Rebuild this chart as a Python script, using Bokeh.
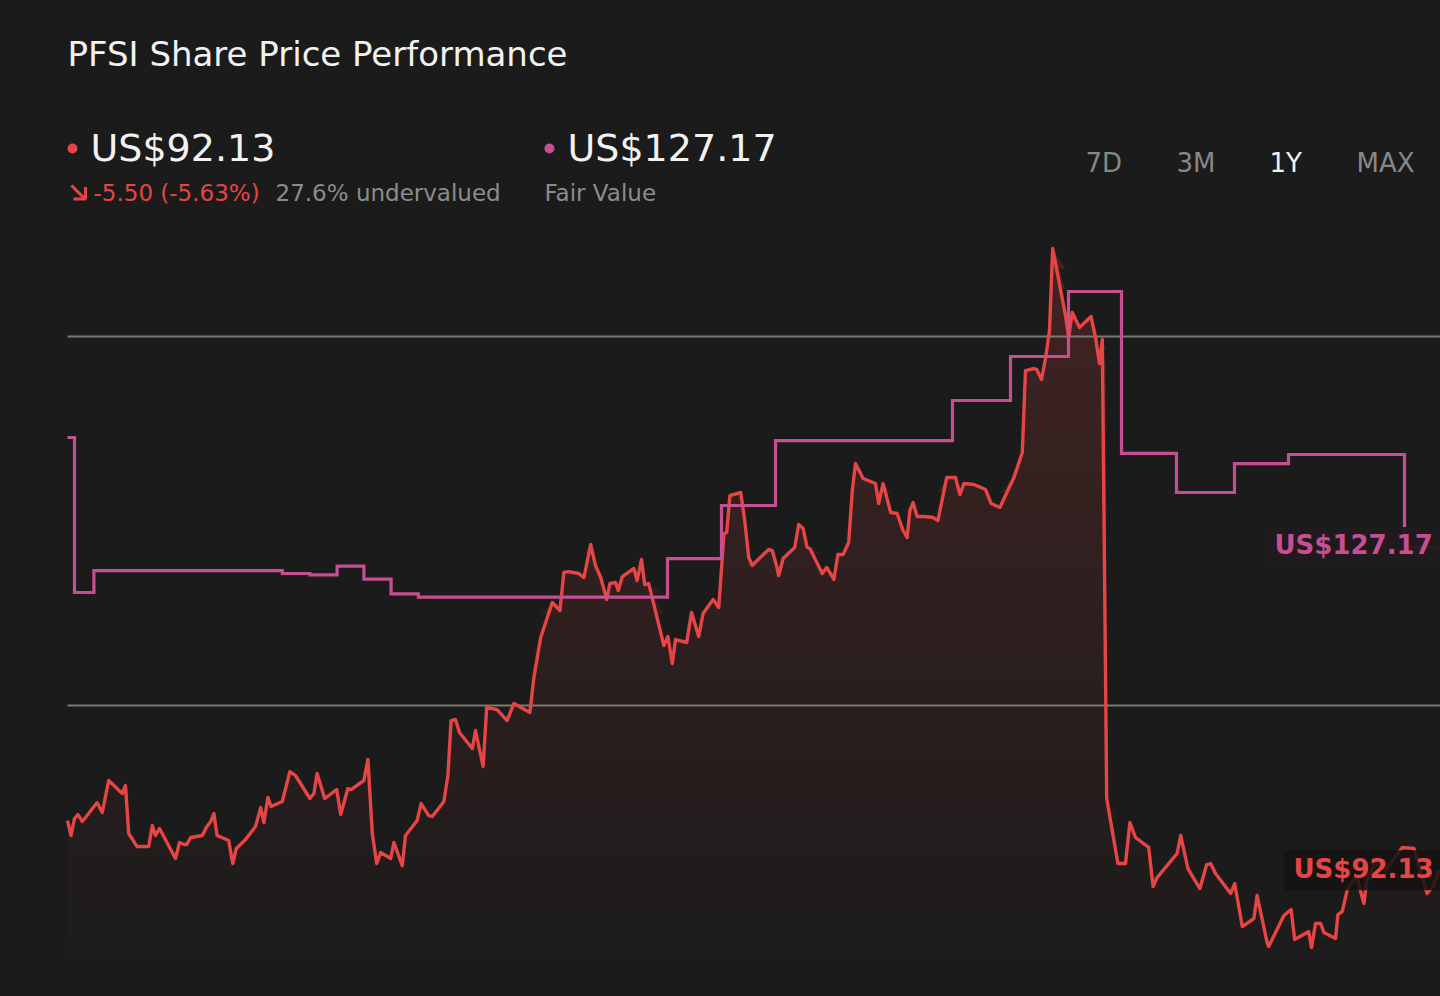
import numpy as np
from bokeh.plotting import figure
from bokeh.models import Range1d
from bokeh.core.properties import value
from bokeh.embed import file_html
from bokeh.resources import INLINE

# ---------------- data ----------------
ticker = "PFSI"
price_days = [0, 0.9, 1.75, 2.6, 3.1, 3.7, 4.9, 7.4, 8.7, 10.3,
              13.7, 14.5, 15.3, 17.4, 20.3, 21.2, 22, 23, 27, 28,
              29.1, 29.8, 30.8, 33.7, 34.7, 35.8, 36.6, 37.4, 40.3, 41.3,
              42.2, 44.5, 47, 48.3, 49.1, 50.1, 50.9, 53.7, 55.6, 57,
              60.6, 61.6, 62.4, 64.3, 67.3, 68.3, 70.1, 70.9, 74.1, 75.1,
              76.2, 77.3, 78.3, 80.8, 81.6, 83.7, 84.5, 87.4, 88.4, 90.3,
              91.2, 94.1, 95.1, 95.9, 97, 98, 101.2, 102, 103.9, 104.8,
              107.4, 109.9, 111.6, 115.6, 116.6, 118.3, 121.2, 123.1, 124.1, 125.3,
              127.8, 129.1, 130.8, 132, 133.3, 134.8, 135.6, 137, 137.7, 138.7,
              141.6, 142.4, 143.5, 144.3, 145.3, 149.1, 150.1, 151.2, 152, 154.8,
              156, 157.8, 158.9, 161.4, 162.8, 163.7, 164.1, 164.8, 165.6, 168.3,
              169.3, 170.3, 171.2, 172.4, 175.3, 176.2, 177.3, 177.8, 178.9, 181.8,
              182.8, 183.9, 184.9, 185.6, 188.7, 189.8, 191.6, 192.6, 193.9, 195.3,
              196.2, 197, 198.9, 202, 202.8, 203.9, 205.8, 207.4, 208.9, 209.9,
              210.6, 211.4, 212.4, 214.1, 216.4, 217.6, 219.8, 222, 223.1, 224.1,
              226.6, 229.5, 230.9, 233.1, 236.6, 238.7, 239.5, 241.6, 242.3, 243.5,
              244.5, 245.5, 246.3, 249.5, 250.3, 251.2, 253, 255.9, 257, 258,
              258.7, 259.8, 262.6, 264.5, 265.6, 267, 270.3, 271.4, 272.4, 277.4,
              278.3, 280.1, 283.1, 284.8, 285.8, 287, 290.8, 291.8, 293.7, 296.6,
              297.4, 299.9, 300.3, 304.1, 305.9, 306.8, 310.3, 311, 312, 313.3,
              314.1, 317, 317.6, 318.7, 319.9, 321, 322.3, 324.1, 324.8, 327,
              329.5, 332, 333.7, 336.6, 339.9, 341.3, 343]
price_vals = [97.53, 95.91, 97.75, 98.18, 97.86, 97.42, 98.07, 99.48, 98.40, 101.87,
              100.46, 101.33, 96.12, 94.71, 94.71, 96.99, 95.91, 96.67, 93.41, 95.15,
              94.93, 94.93, 95.69, 95.91, 96.77, 97.42, 98.29, 95.91, 95.36, 92.87,
              94.50, 95.47, 96.88, 98.94, 97.32, 100.03, 99.05, 99.59, 102.84, 102.41,
              99.92, 100.46, 102.63, 99.92, 100.89, 98.18, 101.00, 100.89, 101.87, 104.14,
              96.12, 92.87, 94.06, 93.41, 95.15, 92.65, 95.91, 97.53, 99.37, 98.07,
              97.97, 99.59, 102.41, 108.37, 108.48, 107.07, 105.34, 107.29, 103.39, 109.78,
              109.56, 108.37, 110.22, 109.24, 113.03, 117.37, 121.16, 120.30, 124.42, 124.52,
              124.31, 123.87, 127.45, 125.17, 123.87, 121.49, 123.22, 123.33, 122.46, 123.98,
              124.85, 123.55, 125.82, 123.11, 123.22, 116.50, 117.48, 114.55, 117.15, 116.83,
              120.08, 117.48, 119.97, 121.49, 120.62, 126.04, 128.64, 128.75, 132.76, 133.09,
              130.05, 126.04, 125.17, 125.72, 126.91, 126.80, 125.07, 124.09, 125.93, 127.13,
              129.62, 129.19, 127.13, 127.02, 124.31, 124.96, 123.66, 126.37, 126.37, 127.67,
              133.30, 136.23, 134.61, 134.06, 131.90, 134.06, 130.92, 130.81, 128.97, 128.21,
              131.14, 132.00, 130.49, 130.49, 130.38, 130.05, 134.71, 134.71, 132.87, 134.06,
              133.95, 133.41, 131.90, 131.46, 134.71, 137.42, 146.31, 146.53, 146.42, 145.34,
              147.61, 150.65, 159.54, 152.27, 149.89, 152.60, 150.97, 152.17, 149.89, 147.07,
              149.67, 99.92, 92.87, 92.87, 97.32, 95.69, 94.61, 90.38, 91.35, 93.96,
              95.91, 92.33, 90.16, 92.76, 92.87, 91.79, 89.62, 90.70, 86.04, 86.91,
              89.40, 84.31, 83.87, 87.23, 87.88, 84.63, 85.50, 83.77, 86.37, 86.37,
              85.39, 84.74, 87.34, 87.67, 89.94, 90.81, 91.46, 88.54, 91.03, 92.98,
              92.11, 93.63, 94.61, 94.50, 89.62, 90.38, 92.13]
fv_days = [0, 1.75, 6.6, 53.7, 60.6, 67.4, 74.1, 80.9, 87.7, 150,
           163.5, 177, 221.25, 235.75, 250.25, 263.5, 277.25, 291.75, 305.25, 334.25, 343]
fv_vals = [139.05, 122.25, 124.63, 124.31, 124.17, 125.10, 123.69, 122.11, 121.74, 125.93,
           131.68, 138.72, 143.06, 147.83, 154.88, 137.32, 133.09, 136.23, 137.21, 127.17, 127.17]
grid_levels = [110, 150]
price_change = -5.50
price_change_pct = -5.63
undervalued_pct = 27.6
range_buttons = ["7D", "3M", "1Y", "MAX"]
active_range = "1Y"

# ---------------- style ----------------
BG = "#1b1b1b"
BG_RGB = (27, 27, 27)
RED = "#e54545"
RED_RGB = (229, 69, 69)
PINK = "#c64f92"
GRID = "#7c7a6c"
WHITE = "#f2f2f2"
GREY = "#8c8c8c"
FONT = value("DejaVu Sans")

W, H = 1440, 996
X0_PAGE = 67          # page x of first day
PX_PER_DAY = 4.0
Y_REF_PAGE = 705      # page y of the lower gridline
PX_PER_USD = 9.225

x_start = price_days[0] - X0_PAGE / PX_PER_DAY
x_end = x_start + W / PX_PER_DAY
y_top = grid_levels[0] + Y_REF_PAGE / PX_PER_USD
y_bot = y_top - H / PX_PER_USD

p = figure(width=W, height=H, x_range=Range1d(x_start, x_end), y_range=Range1d(y_bot, y_top),
           x_axis_location=None, y_axis_location=None, toolbar_location=None,
           output_backend="svg", min_border=0, outline_line_color=None,
           background_fill_color=BG, border_fill_color=BG, title=None)
p.grid.visible = False
p.extra_x_ranges = {"px": Range1d(0, W)}
p.extra_y_ranges = {"px": Range1d(H, 0)}

px = np.array(price_days, dtype=float)
pv = np.array(price_vals, dtype=float)


def blend(a):
    r = [round(b + a * (c - b)) for b, c in zip(BG_RGB, RED_RGB)]
    return "#%02x%02x%02x" % tuple(r)


# vertical gradient fill under the price line: opaque overlapping layers
fade_bottom = y_bot + 16 / PX_PER_USD
fade_top = pv.max()
n_layers = 36
levels = np.linspace(fade_bottom, fade_top, n_layers, endpoint=False)
for k, lvl in enumerate(levels):
    a = 0.19 * (k + 1) / n_layers
    p.varea(x=px, y1=np.full_like(pv, lvl), y2=np.maximum(pv, lvl),
            fill_color=blend(a), fill_alpha=1.0)

# gridlines
p.segment(x0=[price_days[0]] * len(grid_levels), x1=[x_end + 20] * len(grid_levels),
          y0=grid_levels, y1=grid_levels, line_color=GRID, line_width=2)

# price line and fair value step line
p.line(px, pv, line_color=RED, line_width=3.4, line_join="round")
p.step(fv_days, fv_vals, mode="after", line_color=PINK, line_width=3.2, line_join="miter")

# end labels
price_last = price_vals[-1]
fv_last = fv_vals[-1]
half_box = 20 / PX_PER_USD
p.quad(left=[1265], right=[1480], bottom=[fv_last - half_box], top=[fv_last + half_box],
       x_range_name="px", fill_color="#201a1d", fill_alpha=0.95, line_color=None)
p.text(x=[1274], y=[fv_last], text=[f"US${fv_last:.2f}"], x_range_name="px",
       text_font=FONT, text_font_size="26px", text_font_style="bold",
       text_color=PINK, text_baseline="middle", text_align="left", y_offset=-2)
p.quad(left=[1284], right=[1480], bottom=[price_last - half_box], top=[price_last + half_box],
       x_range_name="px", fill_color="#151212", fill_alpha=0.85, line_color=None)
p.text(x=[1293], y=[price_last], text=[f"US${price_last:.2f}"], x_range_name="px",
       text_font=FONT, text_font_size="26px", text_font_style="bold",
       text_color=RED, text_baseline="middle", text_align="left", y_offset=-1)


def ptext(x, y, s, size, color, bold=False, align="left"):
    p.text(x=[x], y=[y], text=[s], x_range_name="px", y_range_name="px",
           text_font=FONT, text_font_size=f"{size}px", text_color=color,
           text_font_style="bold" if bold else "normal",
           text_align=align, text_baseline="middle")


# header (y = vertical centre of the text line, page pixels)
ptext(67, 53, f"{ticker} Share Price Performance", 34, WHITE)
p.scatter(x=[72, 549], y=[148, 148], size=10, fill_color=[RED, PINK], line_color=None,
          x_range_name="px", y_range_name="px")
ptext(90, 147, f"US${price_last:.2f}", 38, WHITE)
ptext(567, 147, f"US${fv_last:.2f}", 38, WHITE)
# down-right arrow icon
p.multi_line(xs=[[71, 84.5], [73, 85, 85]], ys=[[185, 198.5], [198.5, 198.5, 186.5]],
             line_color=RED, line_width=3, x_range_name="px", y_range_name="px")
ptext(93, 192, f"{price_change:.2f} ({price_change_pct:.2f}%)", 23, RED)
ptext(275, 192, f"{undervalued_pct:.1f}% undervalued", 23, GREY)
ptext(544, 192, "Fair Value", 23, GREY)

button_x = [1085, 1176, 1269, 1356]
for bx, lab in zip(button_x, range_buttons):
    ptext(bx, 162, lab, 26, WHITE if lab == active_range else "#878787")

html = file_html(p, INLINE, title=f"{ticker} Share Price Performance")
html = html.replace("<head>", "<head><style>html, body { background: #1b1b1b; }</style>", 1)
open("out.html", "w").write(html)
